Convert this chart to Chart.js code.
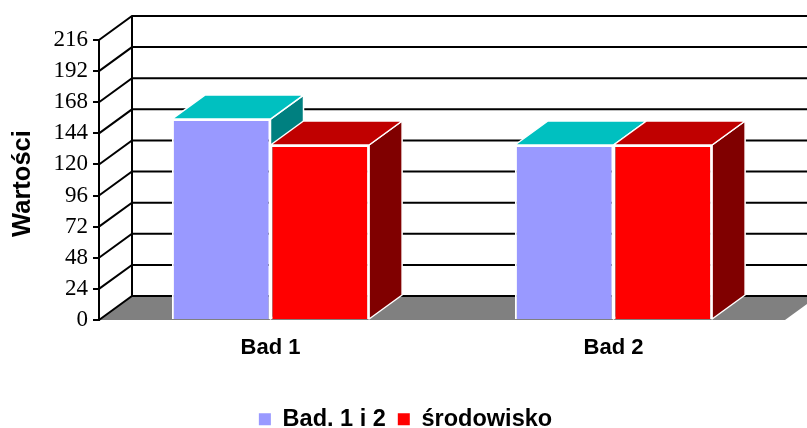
<!DOCTYPE html>
<html>
<head>
<meta charset="utf-8">
<style>
  html, body { margin: 0; padding: 0; background: #fff; }
  canvas { display: block; }
</style>
<script src="https://cdn.jsdelivr.net/npm/chart.js@4/dist/chart.umd.min.js"></script>
</head>
<body>
<canvas id="chart" width="807" height="428"></canvas>
<script>
const categories = ['Bad 1', 'Bad 2'];
const seriesNames = ['Bad. 1 i 2', 'środowisko'];
const badValues = [155, 135];
const srodowiskoValues = [135, 135];
const yTickValues = [0, 24, 48, 72, 96, 120, 144, 168, 192, 216];

// how far the back wall sits from the front plane
const depthX = 33;
const depthY = 24;

const faceColors = [
    { top: '#00C0C0', side: '#008080' },
    { top: '#C00000', side: '#800000' }
];

function poly(ctx, pts, fill, stroke, width) {
    ctx.beginPath();
    pts.forEach((p, i) => i ? ctx.lineTo(p[0], p[1]) : ctx.moveTo(p[0], p[1]));
    ctx.closePath();
    if (fill) {
        ctx.fillStyle = fill;
        ctx.fill();
    }
    if (stroke) {
        ctx.strokeStyle = stroke;
        ctx.lineWidth = width;
        ctx.stroke();
    }
}

// floor, back wall lines and the diagonals on the left wall
const wallsPlugin = {
    id: 'walls',
    beforeDatasetsDraw(chart) {
        const ctx = chart.ctx;
        const area = chart.chartArea;
        const y = chart.scales.y;
        const base = y.getPixelForValue(0);
        ctx.save();
        poly(ctx, [
            [area.left, base],
            [area.left + depthX, base - depthY],
            [area.right + depthX, base - depthY],
            [area.right, base]
        ], '#808080');
        ctx.strokeStyle = '#000';
        ctx.lineWidth = 2;
        y.ticks.forEach(t => {
            const py = y.getPixelForValue(t.value);
            ctx.beginPath();
            ctx.moveTo(area.left, py);
            ctx.lineTo(area.left + depthX, py - depthY);
            ctx.lineTo(area.right + depthX, py - depthY);
            ctx.stroke();
        });
        ctx.beginPath();
        ctx.moveTo(area.left + depthX, y.getPixelForValue(216) - depthY);
        ctx.lineTo(area.left + depthX, base - depthY);
        ctx.stroke();
        ctx.restore();
    }
};

// top and side of each bar. Done for all datasets first, left to right,
// the front faces come later from the library and sit over them
const barDepthPlugin = {
    id: 'barDepth',
    beforeDatasetsDraw(chart) {
        const ctx = chart.ctx;
        ctx.save();
        ctx.lineJoin = 'round';
        chart.data.datasets.forEach((ds, index) => {
            const colors = faceColors[index];
            chart.getDatasetMeta(index).data.forEach(bar => {
                const l = bar.x - bar.width / 2;
                const r = bar.x + bar.width / 2;
                poly(ctx, [[r, bar.y], [r + depthX, bar.y - depthY], [r + depthX, bar.base - depthY], [r, bar.base]], colors.side, '#fff', 1.5);
                poly(ctx, [[l, bar.y], [l + depthX, bar.y - depthY], [r + depthX, bar.y - depthY], [r, bar.y]], colors.top, '#fff', 1.5);
            });
        });
        ctx.restore();
    }
};

new Chart(document.getElementById('chart').getContext('2d'), {
    type: 'bar',
    data: {
        labels: categories,
        datasets: [
            { label: seriesNames[0], data: badValues, backgroundColor: '#9999FF', borderColor: '#fff', borderWidth: 2 },
            { label: seriesNames[1], data: srodowiskoValues, backgroundColor: '#FF0000', borderColor: '#fff', borderWidth: 2 }
        ]
    },
    options: {
        responsive: false,
        animation: false,
        // left padding only here to push the centred legend over, title is pulled back below
        layout: { padding: { left: 26, right: 22, top: 40, bottom: -13 } },
        datasets: { bar: { barPercentage: 1, categoryPercentage: 0.575 } },
        scales: {
            x: {
                grid: { display: false },
                border: { display: false },
                ticks: {
                    color: '#000',
                    padding: 7,
                    maxRotation: 0,
                    font: { family: '"Liberation Sans"', size: 22, weight: 'bold' }
                },
                afterFit(scale) { scale.height = 75.5; }
            },
            y: {
                min: 0,
                max: 216,
                afterBuildTicks(scale) { scale.ticks = yTickValues.map(v => ({ value: v })); },
                afterFit(scale) { scale.width = 73; },
                title: {
                    display: true,
                    text: 'Wartości ', // trailing space nudges the rotated text down a little
                    color: '#000',
                    font: { family: '"Liberation Sans"', size: 25.5, weight: 'bold' },
                    padding: { top: -18, bottom: 0 }
                },
                grid: { drawOnChartArea: false, color: '#000', lineWidth: 2, tickLength: 6 },
                border: { color: '#000', width: 2 },
                ticks: {
                    color: '#000',
                    padding: 5,
                    autoSkip: false,
                    font: { family: '"Liberation Serif"', size: 23 }
                }
            }
        },
        plugins: {
            tooltip: { enabled: false },
            legend: {
                position: 'bottom',
                labels: {
                    color: '#000',
                    boxWidth: 12,
                    boxHeight: 12,
                    padding: 12,
                    font: { family: '"Liberation Sans"', size: 23.5, weight: 'bold' },
                    // no white border on the swatches, the bars' border would eat into them
                    generateLabels(chart) {
                        return Chart.defaults.plugins.legend.labels.generateLabels(chart)
                            .map(item => ({ ...item, lineWidth: 0 }));
                    }
                }
            }
        }
    },
    plugins: [wallsPlugin, barDepthPlugin]
});
</script>
</body>
</html>
